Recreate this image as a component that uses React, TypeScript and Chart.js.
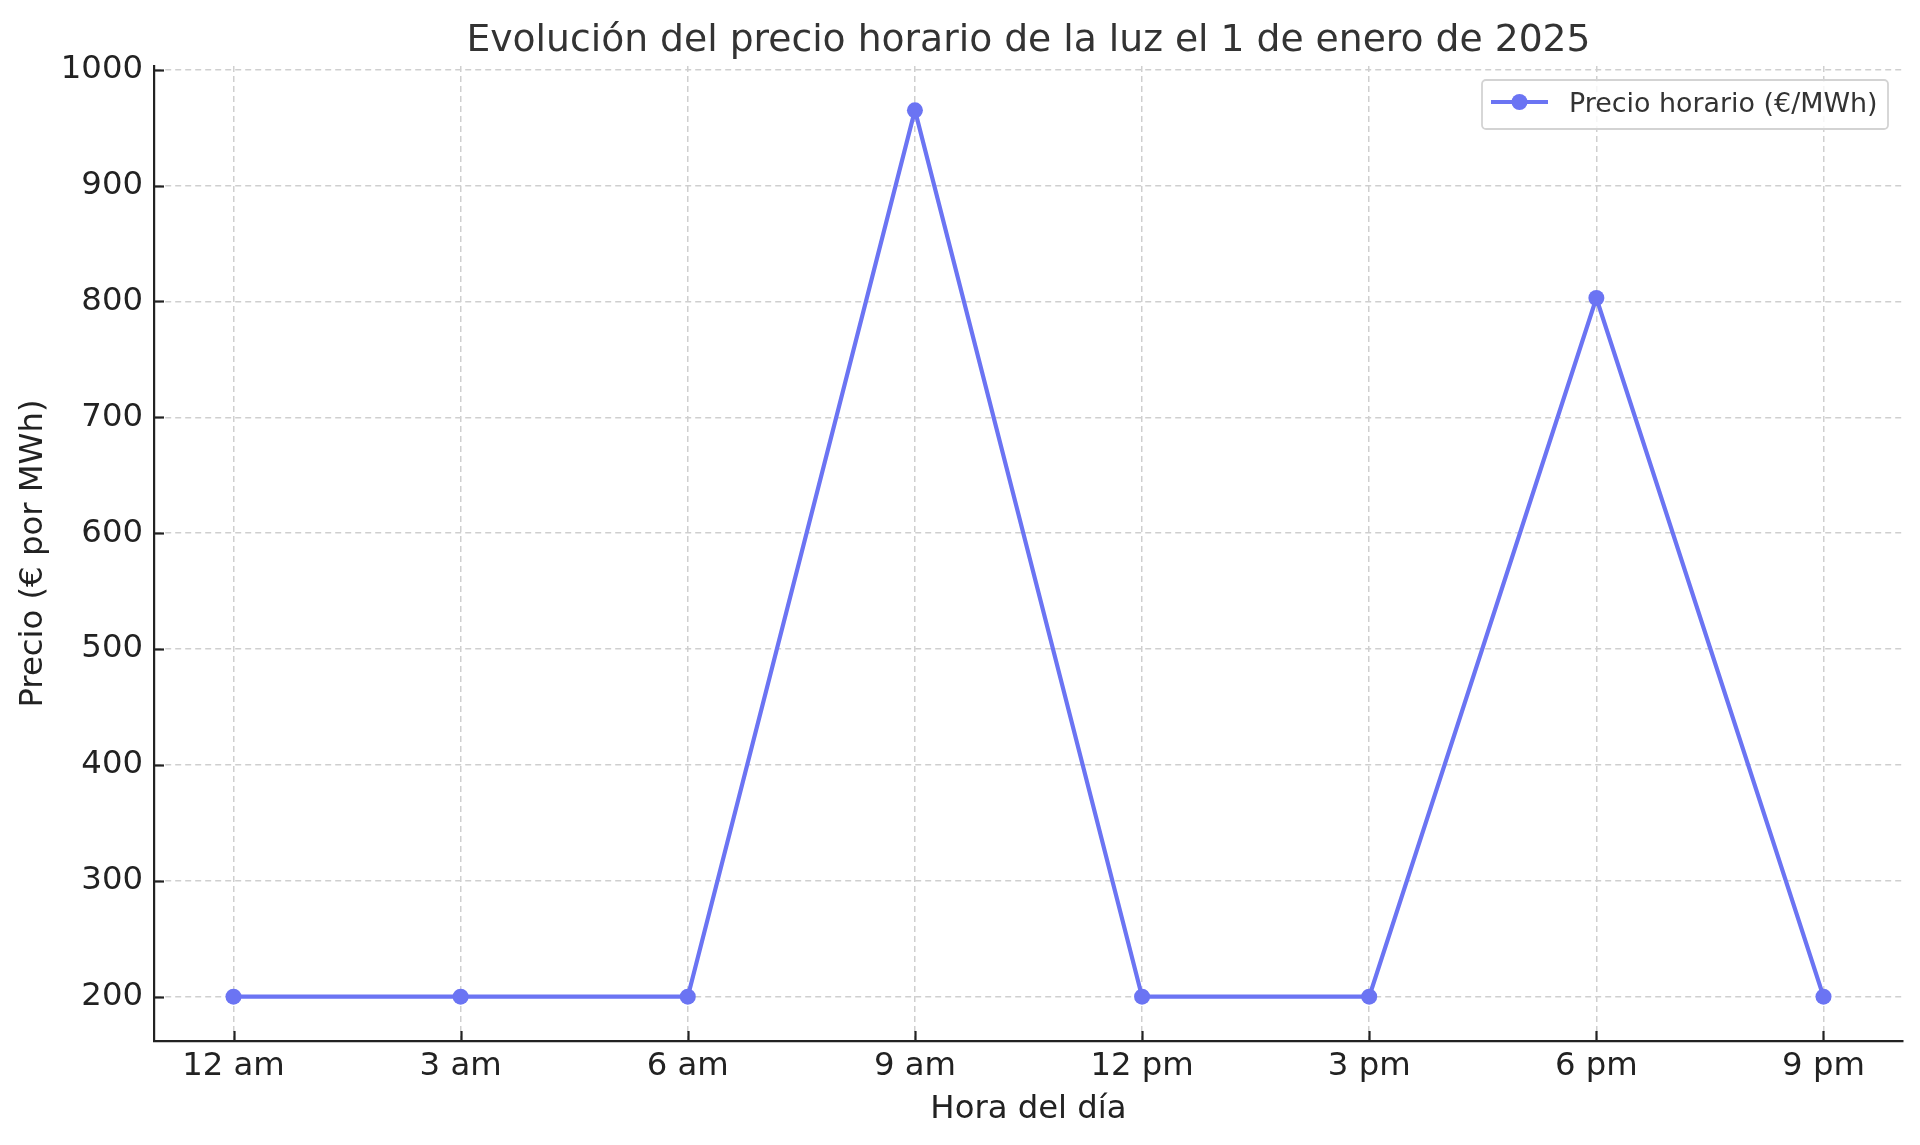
import React, { useEffect, useRef } from "react";
import { Chart, registerables } from "chart.js";

Chart.register(...registerables);

const HOURS = [0, 3, 6, 9, 12, 15, 18, 21];
const PRICES = [200, 200, 200, 965, 200, 200, 803, 200];
const X_TICK_LABELS = ["12 am", "3 am", "6 am", "9 am", "12 pm", "3 pm", "6 pm", "9 pm"];
const Y_TICKS = [200, 300, 400, 500, 600, 700, 800, 900, 1000];
const TITLE = "Evolución del precio horario de la luz el 1 de enero de 2025";
const X_TITLE = "Hora del día";
const Y_TITLE = "Precio (€ por MWh)";
const SERIES_LABEL = "Precio horario (€/MWh)";

const LINE_COLOR = "#6b74f3";
const FONT = "'DejaVu Sans', sans-serif";

export default function App() {
  const ref = useRef<HTMLCanvasElement | null>(null);

  useEffect(() => {
    if (!ref.current) return;
    const decor = {
      id: "decor",
      afterDraw(chart: any) {
        const ctx = chart.ctx;
        const a = chart.chartArea;
        const xs = chart.scales.x;
        const ys = chart.scales.y;
        ctx.save();
        // inward ticks
        ctx.strokeStyle = "#222";
        ctx.lineWidth = 2.2;
        HOURS.forEach((h) => {
          const px = Math.round(xs.getPixelForValue(h)) + 0.5;
          ctx.beginPath();
          ctx.moveTo(px, a.bottom);
          ctx.lineTo(px, a.bottom - 10);
          ctx.stroke();
        });
        Y_TICKS.forEach((v) => {
          const py = Math.round(ys.getPixelForValue(v)) + 0.5;
          ctx.beginPath();
          ctx.moveTo(a.left, py);
          ctx.lineTo(a.left + 10, py);
          ctx.stroke();
        });
        // title
        ctx.fillStyle = "#333";
        ctx.font = `37.7px ${FONT}`;
        ctx.textAlign = "center";
        ctx.textBaseline = "middle";
        ctx.fillText(TITLE, (a.left + a.right) / 2, 41);
        // axis titles
        ctx.fillStyle = "#222";
        ctx.font = `32.3px ${FONT}`;
        ctx.fillText(X_TITLE, (a.left + a.right) / 2, 1110);
        ctx.save();
        ctx.translate(34, (a.top + a.bottom) / 2);
        ctx.rotate(-Math.PI / 2);
        ctx.fillText(Y_TITLE, 0, 0);
        ctx.restore();
        // legend
        const bx = 1482, by = 80, bw = 406, bh = 49, r = 4;
        ctx.beginPath();
        ctx.moveTo(bx + r, by);
        ctx.arcTo(bx + bw, by, bx + bw, by + bh, r);
        ctx.arcTo(bx + bw, by + bh, bx, by + bh, r);
        ctx.arcTo(bx, by + bh, bx, by, r);
        ctx.arcTo(bx, by, bx + bw, by, r);
        ctx.closePath();
        ctx.fillStyle = "rgba(255,255,255,0.8)";
        ctx.fill();
        ctx.strokeStyle = "#d3d3d3";
        ctx.lineWidth = 1.8;
        ctx.stroke();
        ctx.strokeStyle = LINE_COLOR;
        ctx.lineWidth = 4.2;
        ctx.beginPath();
        ctx.moveTo(1491, 102);
        ctx.lineTo(1548, 102);
        ctx.stroke();
        ctx.fillStyle = LINE_COLOR;
        ctx.beginPath();
        ctx.arc(1519.5, 102, 8, 0, Math.PI * 2);
        ctx.fill();
        ctx.fillStyle = "#333";
        ctx.font = `26.9px ${FONT}`;
        ctx.textAlign = "left";
        ctx.textBaseline = "middle";
        ctx.fillText(SERIES_LABEL, 1569, 105);
        ctx.restore();
      },
    };

    const chart = new Chart(ref.current, {
      type: "line",
      data: {
        datasets: [
          {
            label: SERIES_LABEL,
            data: HOURS.map((h, i) => ({ x: h, y: PRICES[i] })),
            borderColor: LINE_COLOR,
            backgroundColor: LINE_COLOR,
            borderWidth: 4.2,
            pointRadius: 8,
            pointBorderWidth: 0,
            pointBackgroundColor: LINE_COLOR,
            tension: 0,
          },
        ],
      },
      options: {
        responsive: false,
        animation: false,
        layout: { padding: { top: 66, right: 17, left: 0, bottom: 0 } },
        plugins: { legend: { display: false }, title: { display: false }, tooltip: { enabled: false } },
        scales: {
          x: {
            type: "linear",
            min: -1.05,
            max: 22.05,
            afterBuildTicks: (s: any) => {
              s.ticks = HOURS.map((v) => ({ value: v }));
            },
            afterFit: (s: any) => {
              s.height = 104;
            },
            ticks: {
              autoSkip: false,
              maxRotation: 0,
              padding: 6,
              color: "#222",
              font: { family: FONT, size: 32.3 },
              callback: (v: any) => {
                const i = HOURS.indexOf(Number(v));
                return i >= 0 ? X_TICK_LABELS[i] : "";
              },
            },
            grid: { color: "#cfcfcf", lineWidth: 1.5, drawTicks: false },
            border: { display: true, color: "#222", width: 2.2, dash: [6, 4] },
          },
          y: {
            type: "linear",
            min: 161.75,
            max: 1003.25,
            afterBuildTicks: (s: any) => {
              s.ticks = Y_TICKS.map((v) => ({ value: v }));
            },
            afterFit: (s: any) => {
              s.width = 154;
            },
            ticks: {
              padding: 11,
              color: "#222",
              font: { family: FONT, size: 32.3 },
              callback: (v: any) => String(v),
            },
            grid: { color: "#cfcfcf", lineWidth: 1.5, drawTicks: false },
            border: { display: true, color: "#222", width: 2.2, dash: [6, 4] },
          },
        },
      },
      plugins: [decor],
    } as any);
    return () => chart.destroy();
  }, []);

  return (
    <div style={{ position: "fixed", left: 0, top: 0, width: 1920, height: 1145, background: "#fff" }}>
      <canvas ref={ref} width={1920} height={1145} style={{ display: "block" }} />
    </div>
  );
}
